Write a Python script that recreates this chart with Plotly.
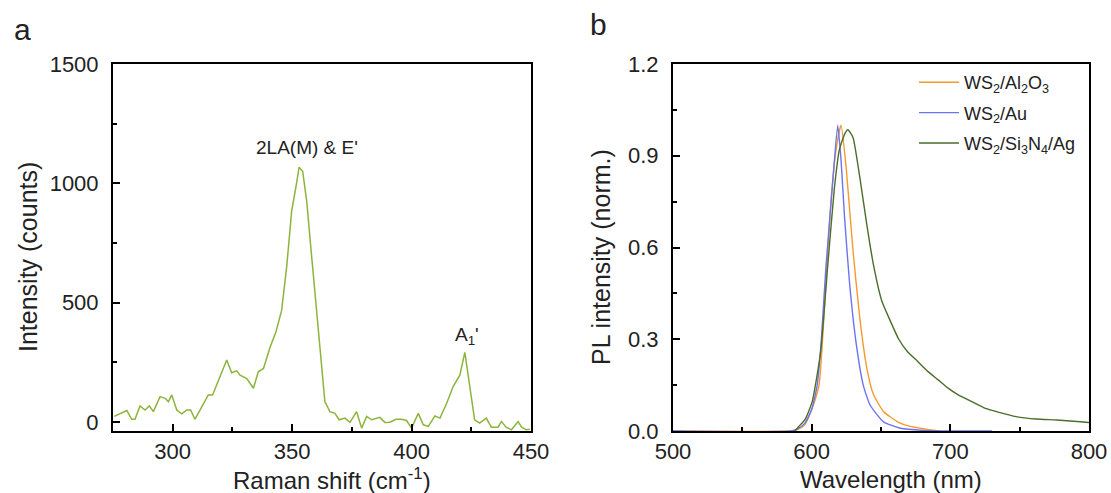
import plotly.graph_objects as go

# ---- Raman spectrum (panel a) ----
raman_shift = [275.5, 278.0, 280.8, 282.8, 284.2, 286.3, 288.4, 290.2, 291.9, 294.7,
               296.8, 298.2, 299.6, 301.7, 303.8, 305.9, 307.5, 309.3, 312.1, 314.9,
               316.7, 319.1, 322.6, 324.7, 326.8, 328.2, 331.0, 333.8, 335.8, 338.0,
               340.8, 343.2, 345.6, 347.7, 349.8, 351.9, 352.9, 354.4, 356.1, 357.7,
               359.6, 361.6, 363.7, 365.8, 367.9, 369.7, 372.1, 374.2, 377.0, 379.1,
               381.2, 383.3, 386.7, 388.8, 390.9, 393.5, 395.8, 397.9, 400.0, 402.8,
               404.9, 407.0, 409.8, 411.9, 414.7, 417.4, 420.2, 422.3, 423.6, 425.1,
               426.4, 428.5, 431.3, 433.4, 436.2, 437.6, 439.6, 441.8, 444.6, 446.0,
               448.0, 449.5]
raman_counts = [24, 35, 49, 12, 12, 68, 51, 68, 44, 107,
                100, 86, 114, 51, 35, 51, 51, 12, 65, 114,
                114, 176, 260, 207, 215, 197, 183, 142, 211, 225,
                315, 378, 468, 649, 885, 1003, 1068, 1051, 926, 746,
                538, 301, 86, 44, 37, 10, 17, -1, 44, -25,
                24, 10, 20, -1, 0, 12, 12, 7, -25, 37,
                -11, -18, 26, 17, 79, 149, 197, 292, 204, 93,
                10, -4, 17, -21, -21, 3, -21, -32, 3, -20,
                -32, -30]

# ---- Normalised PL spectra (panel b) ----
wl_al2o3 = [500, 585, 590, 595, 600, 605.3, 610.2, 613.9, 617.6, 621.2, 624.9,
            629.8, 634.7, 639.6, 644.5, 651.8, 661.6, 671, 681, 692]
pl_al2o3 = [0, 0, 0.005, 0.02, 0.07, 0.15, 0.48, 0.75, 0.92, 1.0, 0.86,
            0.59, 0.37, 0.21, 0.12, 0.064, 0.031, 0.015, 0.007, 0]

wl_au = [500, 585, 590, 595, 600, 604, 607, 610.2, 615.1, 618.8, 621.2, 623.7,
         627.4, 632.3, 637.2, 642.1, 651.8, 664, 681, 700, 730]
pl_au = [0, 0, 0.008, 0.025, 0.07, 0.15, 0.3, 0.53, 0.81, 1.0, 0.885, 0.70,
         0.48, 0.28, 0.15, 0.085, 0.03, 0.009, 0.002, 0, 0]

wl_ag = [588, 590.6, 595.5, 600.4, 606.5, 611.4, 616.3, 620, 623.7, 626.1, 629.8,
         634.7, 639.6, 644.5, 650.6, 656.7, 662.8, 669, 676.3, 683.7, 691, 698.4,
         705.7, 715.5, 725.3, 735.1, 747.4, 762.1, 776.7, 791.4, 800]
pl_ag = [0, 0.014, 0.04, 0.096, 0.26, 0.53, 0.79, 0.92, 0.97, 0.985, 0.96,
         0.83, 0.68, 0.545, 0.425, 0.36, 0.30, 0.26, 0.228, 0.195, 0.168, 0.14,
         0.118, 0.096, 0.074, 0.061, 0.047, 0.039, 0.036, 0.031, 0.028]

FONT = "Liberation Sans, Arial, sans-serif"
INK = "#222"
W, H = 1111, 493

fig = go.Figure()

fig.add_trace(go.Scatter(x=raman_shift, y=raman_counts, mode="lines",
                         line=dict(color="#8cb43c", width=1.5),
                         showlegend=False, xaxis="x", yaxis="y"))

pl_series = [
    (wl_al2o3, pl_al2o3, "WS<sub>2</sub>/Al<sub>2</sub>O<sub>3</sub>", "#f59a2e"),
    (wl_au, pl_au, "WS<sub>2</sub>/Au", "#6b74ee"),
    (wl_ag, pl_ag, "WS<sub>2</sub>/Si<sub>3</sub>N<sub>4</sub>/Ag", "#4b6e2a"),
]
for i, (wl, pl, name, color) in enumerate(pl_series):
    fig.add_trace(go.Scatter(x=wl, y=pl, mode="lines", name=name,
                             legendgroup=f"g{i}",
                             line=dict(color=color, width=1.4, shape="spline", smoothing=0.5),
                             xaxis="x2", yaxis="y2"))

axis_common = dict(
    showline=True, linecolor="black", linewidth=2, mirror=True,
    ticks="inside", ticklen=7, tickwidth=2, tickcolor="black",
    showgrid=False, zeroline=False, automargin=False,
    tickfont=dict(family=FONT, size=22, color=INK),
    minor=dict(ticks="inside", ticklen=4, tickwidth=2, tickcolor="black", showgrid=False),
)

ydom = [1 - 431 / H, 1 - 64 / H]


def paper_text(x_px, y_px, text, size, angle=0):
    """Text placed in figure pixels (measured from the top-left corner)."""
    return dict(x=x_px / W, y=1 - y_px / H, xref="paper", yref="paper",
                xanchor="center", yanchor="middle", text=text, textangle=angle,
                showarrow=False, font=dict(family=FONT, size=size, color=INK))


fig.update_layout(
    width=W, height=H,
    margin=dict(l=0, r=0, t=0, b=0),
    paper_bgcolor="white", plot_bgcolor="white",
    font=dict(family=FONT, color=INK),
    xaxis=dict(axis_common, domain=[113 / W, 531 / W], range=[275, 450],
               tickvals=[300, 350, 400, 450], minor_dtick=25, minor_tick0=275,
               ticklabelstandoff=0),
    yaxis=dict(axis_common, domain=ydom, range=[-37, 1500],
               tickvals=[0, 500, 1000, 1500], minor_dtick=250, minor_tick0=0,
               ticklabelstandoff=8),
    xaxis2=dict(axis_common, domain=[673 / W, 1089 / W], range=[500, 800],
                tickvals=[500, 600, 700, 800], minor_dtick=50, minor_tick0=500,
                ticklabelstandoff=0, anchor="y2"),
    yaxis2=dict(axis_common, domain=ydom, range=[0, 1.2],
                tickvals=[0, 0.3, 0.6, 0.9, 1.2], ticktext=["0.0", "0.3", "0.6", "0.9", "1.2"],
                minor_dtick=0.15, minor_tick0=0, anchor="x2",
                ticklabelstandoff=8),
    legend=dict(x=914 / W, y=1 - 64 / H, xanchor="left", yanchor="top",
                bgcolor="rgba(0,0,0,0)", borderwidth=0,
                font=dict(family=FONT, size=18, color=INK),
                itemwidth=40, tracegroupgap=4),
    annotations=[
        # axis titles
        paper_text(332, 479, "Raman shift (cm<sup>-1</sup>)", 24),
        paper_text(28, 257, "Intensity (counts)", 25, angle=-90),
        paper_text(891, 479, "Wavelength (nm)", 24),
        paper_text(601, 257, "PL intensity (norm.)", 25, angle=-90),
        # peak labels
        dict(x=356.4, y=1151, xref="x", yref="y", text="2LA(M) &amp; E'",
             showarrow=False, font=dict(family=FONT, size=19, color=INK)),
        dict(x=423, y=360, xref="x", yref="y", text="A<sub>1</sub>'",
             showarrow=False, font=dict(family=FONT, size=19, color=INK)),
        # panel letters
        paper_text(22, 29, "a", 30),
        paper_text(598, 25, "b", 30),
    ],
)

fig.write_html("out.html")
